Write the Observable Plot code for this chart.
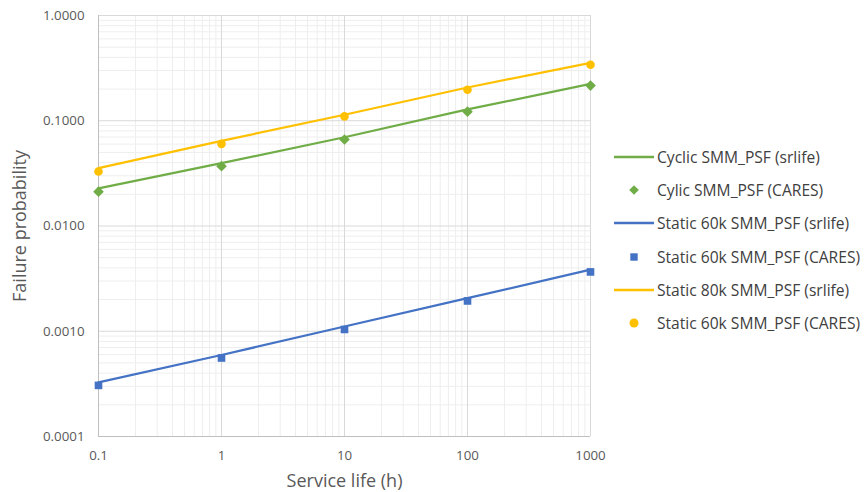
<!DOCTYPE html>
<html><head><meta charset="utf-8">
<script src="https://cdn.jsdelivr.net/npm/d3@7"></script>
<script src="https://cdn.jsdelivr.net/npm/@observablehq/plot@0.6"></script>
<style>
body{margin:0;background:#fff;}
#wrap{position:relative;width:864px;height:492px;font-family:"Open Sans",sans-serif;}
#legend{position:absolute;left:614px;top:140px;font-size:15.6px;color:#404040;}
.item{height:33.3px;display:flex;align-items:center;white-space:nowrap;}
.sw{width:40px;height:22px;margin-right:3px;display:flex;align-items:center;justify-content:center;}
</style></head><body><div id="wrap"><div id="legend"></div></div>
<script>
const hours = [0.1, 1, 10, 100, 1000];
const cyclicSrlife = [0.0228, 0.0395, 0.0697, 0.128, 0.224];
const cyclicCares = [0.0212, 0.0370, 0.0663, 0.122, 0.216];
const static60Srlife = [0.000327, 0.000595, 0.00111, 0.00206, 0.00385];
const static60Cares = [0.000306, 0.000557, 0.00104, 0.00194, 0.00366];
const static80Srlife = [0.0354, 0.0644, 0.114, 0.207, 0.355];
const static60bCares = [0.0329, 0.0603, 0.110, 0.197, 0.340];
const legendNames = ["Cyclic SMM_PSF (srlife)", "Cylic SMM_PSF (CARES)", "Static 60k SMM_PSF (srlife)", "Static 60k SMM_PSF (CARES)", "Static 80k SMM_PSF (srlife)", "Static 60k SMM_PSF (CARES)"];
const xTicks = [0.1, 1, 10, 100, 1000];
const yTicks = [0.0001, 0.001, 0.01, 0.1, 1];

const green = "#70AD47", blue = "#4472C4", yellow = "#FFC000";
const toRows = (vals) => hours.map((h, i) => ({h, v: vals[i]}));

const minorX = [], minorY = [];
for (const d of [0.1, 1, 10, 100]) for (let k = 2; k <= 9; k++) minorX.push(d * k);
for (const d of [0.0001, 0.001, 0.01, 0.1]) for (let k = 2; k <= 9; k++) minorY.push(d * k);

const chart = Plot.plot({
  width: 864, height: 492,
  marginLeft: 98, marginRight: 274, marginTop: 15, marginBottom: 56,
  style: {fontFamily: '"Open Sans", sans-serif', background: "#fff"},
  x: {type: "log", domain: [0.1, 1000]},
  y: {type: "log", domain: [0.0001, 1]},
  marks: [
    Plot.ruleX(minorX, {stroke: "#eeeeee", strokeWidth: 1}),
    Plot.ruleY(minorY, {stroke: "#eeeeee", strokeWidth: 1}),
    Plot.ruleX(xTicks.slice(1), {stroke: "#d9d9d9", strokeWidth: 1}),
    Plot.ruleY(yTicks.slice(1), {stroke: "#d9d9d9", strokeWidth: 1}),
    Plot.ruleX([0.1], {stroke: "#bfbfbf", strokeWidth: 1}),
    Plot.ruleY([0.0001], {stroke: "#bfbfbf", strokeWidth: 1}),
    Plot.axisX({ticks: xTicks, tickFormat: d => String(d), tickSize: 0, tickPadding: 14, fontSize: 13.3, color: "#595959", label: null}),
    Plot.axisY({ticks: yTicks, tickFormat: d3.format(".4f"), tickSize: 0, tickPadding: 14, fontSize: 13.3, color: "#595959", label: null}),
    Plot.text(["Service life (h)"], {frameAnchor: "bottom", textAnchor: "middle", lineAnchor: "middle", dy: 45, fontSize: 18, fill: "#595959"}),
    Plot.text(["Failure probability"], {frameAnchor: "left", textAnchor: "middle", lineAnchor: "middle", dx: -78, rotate: -90, fontSize: 18, fill: "#595959"}),
    Plot.line(toRows(cyclicSrlife), {x: "h", y: "v", stroke: green, strokeWidth: 2.25}),
    Plot.line(toRows(static60Srlife), {x: "h", y: "v", stroke: blue, strokeWidth: 2.25}),
    Plot.line(toRows(static80Srlife), {x: "h", y: "v", stroke: yellow, strokeWidth: 2.25}),
    Plot.dot(toRows(cyclicCares), {x: "h", y: "v", symbol: "diamond2", r: 4.8, fill: green, stroke: null}),
    Plot.dot(toRows(static60Cares), {x: "h", y: "v", symbol: "square", r: 4.3, fill: blue, stroke: null}),
    Plot.dot(toRows(static60bCares), {x: "h", y: "v", symbol: "circle", r: 4.3, fill: yellow, stroke: null})
  ]
});
document.getElementById("wrap").prepend(chart);

const legend = document.getElementById("legend");
const kinds = [["line", green], ["diamond", green], ["line", blue], ["square", blue], ["line", yellow], ["circle", yellow]];
legendNames.forEach((name, i) => {
  const [kind, c] = kinds[i];
  let sw;
  if (kind === "line") sw = `<svg width="40" height="6"><line x1="0" x2="40" y1="3" y2="3" stroke="${c}" stroke-width="2.5"/></svg>`;
  else if (kind === "diamond") sw = `<svg width="12" height="12"><path d="M6 1.2L10.8 6L6 10.8L1.2 6Z" fill="${c}"/></svg>`;
  else if (kind === "square") sw = `<svg width="12" height="12"><rect x="2.3" y="2.3" width="7.4" height="7.4" fill="${c}"/></svg>`;
  else sw = `<svg width="12" height="12"><circle cx="6" cy="6" r="4.5" fill="${c}"/></svg>`;
  const div = document.createElement("div");
  div.className = "item";
  div.innerHTML = `<div class="sw">${sw}</div><span>${name}</span>`;
  legend.appendChild(div);
});
</script></body></html>
